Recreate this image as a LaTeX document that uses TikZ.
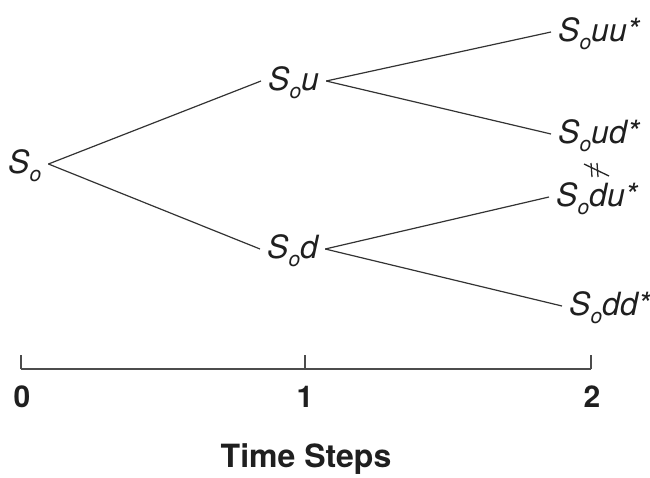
\documentclass[tikz,border=0pt]{standalone}
\usepackage{fontspec}
\setmainfont{TeX Gyre Heros}
\newcommand{\subo}{\raisebox{-0.28em}{\fontsize{21}{21}\selectfont o}}
\begin{document}
\begin{tikzpicture}[x=1pt,y=-1pt,
  lab/.style={anchor=base west,inner ysep=0pt,inner xsep=7pt,text height=18pt,text depth=0pt,
    font=\fontsize{32}{36}\selectfont\itshape,text=black!88},
  br/.style={line width=1.2pt,draw=black!80},
  num/.style={font=\fontsize{30}{34}\selectfont\bfseries,text=black!88,anchor=base},
  ax/.style={line width=1.2pt,draw=black!70},
  mk/.style={line width=1.3pt,draw=black!85}]
\useasboundingbox (0,0) rectangle (650,477);
% tree nodes (x of left text edge, baseline)
\node[lab] (so)  at (1,173) {S\subo};
\node[lab] (su)  at (261,90) {S\subo u};
\node[lab] (sd)  at (260,258) {S\subo d};
\node[lab] (suu) at (551,41) {S\subo uu*};
\node[lab] (sud) at (551,143) {S\subo ud*};
\node[lab] (sdu) at (549,206) {S\subo du*};
\node[lab] (sdd) at (562,315) {S\subo dd*};
% branches
\draw[br] (so.east) -- (su.west);
\draw[br] (so.east) -- (sd.west);
\draw[br] (su.east) -- (suu.west);
\draw[br] (su.east) -- (sud.west);
\draw[br] (sd.east) -- (sdu.west);
\draw[br] (sd.east) -- (sdd.west);
% not-equal mark (rotated)
\coordinate (nq) at (596,170);
\draw[mk] ([shift={(-5,-7)}]nq) -- ([shift={(-4,7)}]nq);
\draw[mk] ([shift={(1,-7)}]nq) -- ([shift={(2,7)}]nq);
\draw[mk] ([shift={(-12,-6)}]nq) -- ([shift={(13,6)}]nq);
% time axis
\coordinate (a0) at (21,369);
\coordinate (a1) at (305,369);
\coordinate (a2) at (591,369);
\draw[ax] (a0) -- (a2);
\draw[ax] (a0) -- ++(0,-14);
\draw[ax] (a1) -- ++(0,-14);
\draw[ax] (a2) -- ++(0,-14);
\node[num] (t0) at (22,407) {0};
\node[num] (t1) at (305,407) {1};
\node[num] (t2) at (592,407) {2};
\node[num,font=\fontsize{32}{36}\selectfont\bfseries] (ts) at (306,467) {Time Steps};
\end{tikzpicture}
\end{document}
